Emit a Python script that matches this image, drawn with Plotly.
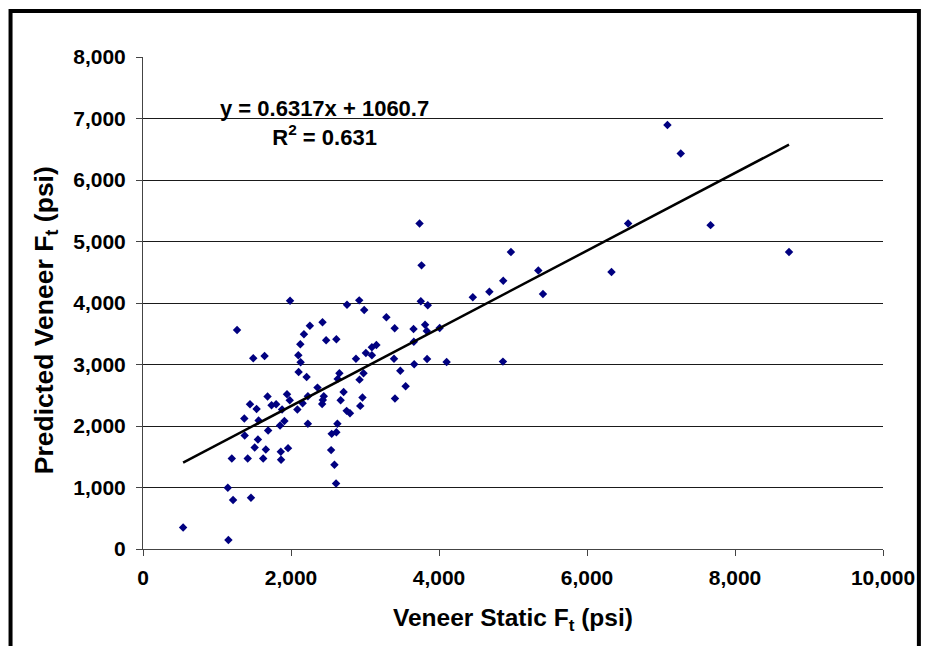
import plotly.graph_objects as go

# Veneer static tensile strength vs. predicted strength (psi)
static_ft = [
    542, 1154, 1146, 1217, 1459, 1200, 1415, 1624, 1866, 1509,
    1660, 1862, 1960, 1374, 1553, 1691, 1852, 1911, 2228, 2550,
    2613, 2542, 2587, 2609, 2627, 1987, 1271, 1490, 1643, 2426,
    2255, 2175, 2126, 2099, 2130, 2103, 2211, 2475, 2613, 2358,
    1946, 1983, 1683, 1446, 1535, 1737, 1799, 1879, 2086, 2157,
    2228, 2430, 2443, 2421, 1369, 1562, 2757, 2922, 2989, 3754,
    3848, 3289, 3401, 3656, 3812, 3835, 4009, 2878, 3012, 3093,
    3154, 3093, 3392, 3477, 3660, 3665, 3839, 4103, 3549, 3405,
    2654, 2631, 2980, 2926, 2711, 2671, 2966, 2936, 2752, 2797,
    3737, 3764, 4972, 5342, 4868, 4681, 4457, 5405, 4864, 7087,
    7267, 6556, 7670, 6331, 8730,
]
predicted_ft = [
    351, 146, 995, 796, 833, 1471, 1471, 1471, 1450, 1650,
    1617, 1580, 1640, 1845, 1780, 1926, 2007, 2083, 2035, 1872,
    1900, 1608, 1369, 1065, 2035, 4037, 3561, 3101, 3139, 3686,
    3631, 3491, 3329, 3150, 3037, 2879, 2798, 3394, 3410, 2624,
    2517, 2420, 2478, 2355, 2278, 2338, 2355, 2267, 2267, 2371,
    2485, 2424, 2485, 2359, 2121, 2088, 3972, 4043, 3886, 4027,
    3962, 3767, 3589, 3577, 3647, 3545, 3593, 3095, 3188, 3280,
    3318, 3150, 3095, 2900, 3371, 3004, 3090, 3041, 2647, 2446,
    2858, 2766, 2858, 2754, 2554, 2420, 2462, 2327, 2246, 2208,
    5294, 4612, 4828, 4530, 4362, 4184, 4092, 4146, 3047, 6895,
    6430, 5294, 5266, 4503, 4828,
]

# Linear trendline reported on the chart
slope = 0.6317
intercept = 1060.7
r_squared = 0.631

x_ticks = [0, 2000, 4000, 6000, 8000, 10000]
y_ticks = [0, 1000, 2000, 3000, 4000, 5000, 6000, 7000, 8000]

FONT = "Liberation Sans, Arial, sans-serif"

fit_x = [min(static_ft), max(static_ft)]
fit_y = [slope * v + intercept for v in fit_x]

fig = go.Figure()
fig.add_trace(go.Scatter(
    x=static_ft, y=predicted_ft, mode="markers",
    marker=dict(symbol="diamond", size=6.5, color="#000080",
                line=dict(width=0)),
    showlegend=False, hoverinfo="x+y",
))
fig.add_trace(go.Scatter(
    x=fit_x, y=fit_y, mode="lines",
    line=dict(color="black", width=2.5),
    showlegend=False, hoverinfo="skip",
))

fig.update_layout(
    width=927, height=646,
    margin=dict(l=143, r=41, t=57, b=97),
    paper_bgcolor="white", plot_bgcolor="white",
    font=dict(family=FONT, color="black", size=21, weight="bold"),
    xaxis=dict(
        range=[0, 10000], tickvals=x_ticks, tickformat=",d",
        showgrid=False, zeroline=False,
        showline=True, linecolor="#444", linewidth=1,
        ticks="outside", ticklen=6, tickcolor="#444", tickwidth=1,
        tickfont=dict(family=FONT, size=21, weight="bold"),
        ticklabelstandoff=4,
    ),
    yaxis=dict(
        range=[0, 8000], tickvals=y_ticks, tickformat=",d",
        showgrid=True, gridcolor="#1a1a1a", gridwidth=1,
        zeroline=False,
        showline=True, linecolor="#444", linewidth=1,
        ticks="outside", ticklen=6, tickcolor="#444", tickwidth=1,
        tickfont=dict(family=FONT, size=21, weight="bold"),
        ticklabelstandoff=6,
    ),
    shapes=[dict(
        type="rect", xref="paper", yref="paper",
        x0=-0.179, x1=1.0485, y0=-0.31, y1=1.0935,
        line=dict(color="black", width=4), fillcolor="rgba(0,0,0,0)",
    )],
    annotations=[
        dict(
            text=f"y = {slope}x + {intercept}<br>R<sup>2</sup> = {r_squared}",
            x=2452, y=6930, xref="x", yref="y",
            showarrow=False, align="center",
            font=dict(family=FONT, size=22, weight="bold"),
        ),
        dict(
            text="Veneer Static F<sub>t</sub> (psi)",
            x=0.5, xref="paper", y=-0.143, yref="paper",
            xanchor="center", yanchor="middle", showarrow=False,
            font=dict(family=FONT, size=24.5, weight="bold"),
        ),
        dict(
            text="Predicted Veneer F<sub>t</sub> (psi)",
            x=-0.131, xref="paper", y=0.465, yref="paper",
            xanchor="center", yanchor="middle", showarrow=False,
            textangle=-90,
            font=dict(family=FONT, size=26.5, weight="bold"),
        ),
    ],
)

fig.write_html("out.html")
